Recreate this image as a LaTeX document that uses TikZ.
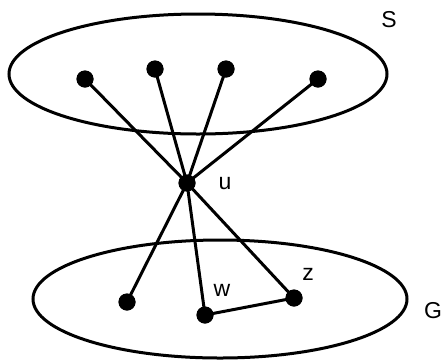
\documentclass[tikz,border=0pt]{standalone}
\usepackage{fontspec}
\setmainfont{Liberation Sans}
\begin{document}
\begin{tikzpicture}[x=1pt,y=-1pt,
  vtx/.style={circle,fill=black,inner sep=0pt,minimum size=17pt},
  edge/.style={line width=3pt},
  ring/.style={line width=3pt},
  lbl/.style={font=\fontsize{23}{25}\selectfont,inner sep=0pt}]
\useasboundingbox (0,0) rectangle (446,360);
\draw[ring] (198,74) ellipse [x radius=189, y radius=60];
\draw[ring] (220,299) ellipse [x radius=187, y radius=59];
\node[vtx] (s1) at (85,79) {};
\node[vtx] (s2) at (155,69) {};
\node[vtx] (s3) at (226,69) {};
\node[vtx] (s4) at (318,79) {};
\node[vtx] (u) at (187,183) {};
\node[vtx] (g1) at (127,302) {};
\node[vtx] (w) at (205,315) {};
\node[vtx] (z) at (294,298) {};
\foreach \n in {s1,s2,s3,s4,g1,w,z} \draw[edge] (u.center) -- (\n.center);
\draw[edge] (w.center) -- (z.center);
\foreach \n in {s1,s2,s3,s4,u,g1,w,z} \node[vtx] at (\n) {};
\node[lbl] (lS) at (389,20) {S};
\node[lbl] (lu) at (225,184) {u};
\node[lbl] (lw) at (222,290) {w};
\node[lbl] (lz) at (308,274) {z};
\node[lbl] (lG) at (433,311) {G};
\end{tikzpicture}
\end{document}
